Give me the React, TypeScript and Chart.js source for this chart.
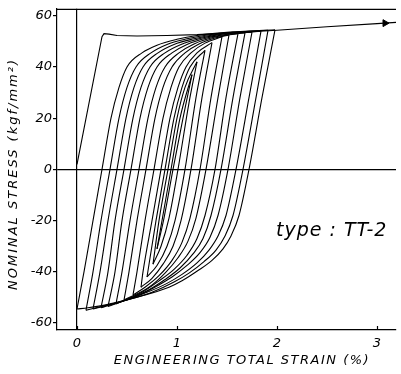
import { useEffect, useRef } from 'react';
import { Chart, registerables } from 'chart.js';

Chart.register(...registerables);

// ---- axis ticks ----
const strainTicks = [0, 1, 2, 3];
const stressTicks = [-60, -40, -20, 0, 20, 40, 60];

// ---- monotonic tensile curve [strain %, stress kgf/mm2] ----
const monotonic = [[0, 2], [0.25, 51.8], [0.27, 53], [0.32, 52.8], [0.4, 52.3], [0.6, 52.1], [0.9, 52.3], [1.2, 52.6], [1.5, 53.2], [2.0, 54.3], [2.5, 55.7], [3.0, 56.9], [3.19, 57.4]];
const arrowPoint = [[3.08, 57.1]];

// ---- cyclic loops: ascending (reloading) branches ----
const up0 = [[0, -54.5], [0.07, -40], [0.16, -20], [0.25, 0], [0.34, 20], [0.42, 32], [0.5, 40], [0.65, 45.5], [0.8, 48.5], [1.0, 50.8], [1.2, 52.3], [1.5, 53.5], [1.98, 54.5]];
const up1 = [[0.09, -55], [0.16, -40], [0.24, -20], [0.33, 0], [0.42, 20], [0.5, 32], [0.59, 40], [0.74, 45.5], [0.9, 48.8], [1.1, 51], [1.3, 52.5], [1.6, 53.6], [1.91, 54.3]];
const up2 = [[0.16, -54.5], [0.23, -40], [0.31, -20], [0.4, 0], [0.49, 20], [0.57, 32], [0.66, 40], [0.81, 45.5], [0.97, 48.8], [1.17, 51], [1.37, 52.6], [1.84, 54]];
const up3 = [[0.24, -54], [0.31, -40], [0.38, -20], [0.47, 0], [0.56, 20], [0.64, 32], [0.73, 40], [0.88, 45.5], [1.04, 48.8], [1.24, 51.2], [1.45, 52.8], [1.75, 53.6]];
const up4 = [[0.31, -53.5], [0.38, -40], [0.45, -20], [0.54, 0], [0.63, 20], [0.71, 32], [0.8, 40], [0.95, 45.5], [1.1, 48.8], [1.3, 51.3], [1.5, 52.7], [1.68, 53.3]];
const up5 = [[0.39, -52.5], [0.45, -40], [0.53, -20], [0.62, 0], [0.71, 20], [0.79, 32], [0.88, 40], [1.02, 45.5], [1.17, 49], [1.36, 51.5], [1.61, 53]];
const up6 = [[0.47, -51], [0.52, -40], [0.6, -20], [0.69, 0], [0.78, 20], [0.86, 32], [0.95, 40], [1.08, 45.5], [1.22, 49], [1.38, 51.3], [1.52, 52.5]];
const up7 = [[0.56, -49], [0.6, -40], [0.68, -20], [0.77, 0], [0.86, 20], [0.94, 32], [1.02, 40], [1.14, 45.5], [1.28, 49.3], [1.45, 51.8]];
const up8 = [[0.64, -46], [0.66, -40], [0.75, -20], [0.84, 0], [0.93, 20], [1.01, 32], [1.09, 40], [1.2, 45.5], [1.35, 49.5]];
const up9 = [[0.7, -42], [0.79, -20], [0.88, 0], [0.97, 20], [1.05, 32], [1.13, 40], [1.28, 46.5]];
const up10 = [[0.76, -37], [0.82, -20], [0.91, 0], [1.0, 20], [1.08, 32], [1.2, 42]];
const up11 = [[0.8, -31], [0.85, -20], [0.94, 0], [1.03, 20], [1.15, 37]];

// ---- cyclic loops: descending (unloading) branches, listed by increasing strain ----
const down0 = [[0, -54.5], [0.11, -54], [0.3, -52.8], [0.49, -51], [0.7, -48.8], [0.92, -46], [1.05, -43.5], [1.21, -39.5], [1.35, -35.5], [1.46, -31], [1.54, -26], [1.62, -18], [1.72, 0], [1.85, 28], [1.98, 54.5]];
const down1 = [[0.09, -55], [0.3, -53], [0.5, -51], [0.75, -48], [0.97, -44], [1.12, -40.5], [1.27, -36], [1.39, -31.5], [1.48, -26], [1.56, -18], [1.66, 0], [1.79, 28], [1.91, 54.3]];
const down2 = [[0.16, -54.5], [0.45, -51.5], [0.7, -48], [0.9, -44.5], [1.05, -41], [1.2, -36.5], [1.32, -31.5], [1.41, -26], [1.49, -18], [1.59, 0], [1.72, 28], [1.84, 54]];
const down3 = [[0.24, -54], [0.6, -49.5], [0.8, -45.5], [0.95, -42], [1.1, -37.5], [1.23, -32.5], [1.33, -26.5], [1.41, -18], [1.51, 0], [1.63, 28], [1.75, 53.6]];
const down4 = [[0.31, -53.5], [0.52, -50.5], [0.72, -47], [0.88, -43], [1.03, -38.5], [1.16, -33], [1.26, -27], [1.34, -18], [1.44, 0], [1.56, 28], [1.68, 53.3]];
const down5 = [[0.39, -52.5], [0.65, -48], [0.82, -43.5], [0.97, -39], [1.1, -33.5], [1.2, -27], [1.28, -18], [1.38, 0], [1.49, 28], [1.61, 53]];
const down6 = [[0.47, -51], [0.72, -46], [0.88, -40.5], [1.01, -34.5], [1.11, -28], [1.19, -19], [1.29, 0], [1.41, 28], [1.52, 52.5]];
const down7 = [[0.56, -49], [0.68, -46], [0.82, -41.5], [0.95, -35.5], [1.05, -28.5], [1.13, -19], [1.23, 0], [1.34, 28], [1.45, 51.8]];
const down8 = [[0.64, -46], [0.75, -42.5], [0.86, -37], [0.96, -30], [1.04, -20], [1.14, 0], [1.25, 28], [1.35, 49.5]];
const down9 = [[0.7, -42], [0.8, -37.5], [0.9, -30], [0.98, -20], [1.08, 0], [1.19, 28], [1.28, 46.5]];
const down10 = [[0.76, -37], [0.84, -30], [0.92, -19], [1.01, 0], [1.12, 26], [1.2, 42]];
const down11 = [[0.8, -31], [0.87, -19], [0.96, 0], [1.06, 20], [1.15, 37]];

const upBranches = [up0, up1, up2, up3, up4, up5, up6, up7, up8, up9, up10, up11];
const downBranches = [down0, down1, down2, down3, down4, down5, down6, down7, down8, down9, down10, down11];

const xTitle = 'ENGINEERING TOTAL STRAIN (%)';
const yTitle = 'NOMINAL STRESS (kgf/mm²)';
const specimenLabel = 'type : TT-2';

const toXY = (arr: number[][]) => arr.map(([x, y]) => ({ x, y }));

const framePlugin = {
  id: 'frame',
  afterDraw(chart: any) {
    const { ctx, chartArea: a, scales } = chart;
    ctx.save();
    ctx.strokeStyle = '#000';
    ctx.lineWidth = 1.2;
    ctx.beginPath();
    ctx.moveTo(a.left, a.top + 0.5);
    ctx.lineTo(a.right, a.top + 0.5);
    for (const v of strainTicks) {
      const px = Math.round(scales.x.getPixelForValue(v)) + 0.5;
      ctx.moveTo(px, a.bottom);
      ctx.lineTo(px, a.bottom - 4);
    }
    ctx.stroke();
    ctx.fillStyle = '#000';
    ctx.textAlign = 'center';
    ctx.textBaseline = 'middle';
    ctx.font = 'italic 13px "DejaVu Sans"';
    (ctx as any).letterSpacing = '1.5px';
    ctx.fillText(xTitle, 242, 361);
    ctx.save();
    ctx.translate(14, 174);
    ctx.rotate(-Math.PI / 2);
    (ctx as any).letterSpacing = '2px';
    ctx.fillText(yTitle, 0, 0);
    ctx.restore();
    (ctx as any).letterSpacing = '1px';
    ctx.font = 'italic 19px "DejaVu Sans"';
    ctx.textAlign = 'left';
    ctx.fillText(specimenLabel, 276, 231);
    ctx.restore();
  },
};

export default function App() {
  const ref = useRef<HTMLCanvasElement>(null);
  useEffect(() => {
    if (!ref.current) return;
    const lineStyle = {
      borderColor: '#000',
      borderWidth: 1.1,
      pointRadius: 0,
      fill: false,
      cubicInterpolationMode: 'monotone' as const,
    };
    const datasets: any[] = [];
    upBranches.forEach((b, i) => datasets.push({ label: 'up' + i, data: toXY(b), ...lineStyle }));
    downBranches.forEach((b, i) => datasets.push({ label: 'down' + i, data: toXY(b), ...lineStyle }));
    datasets.push({
      label: 'monotonic',
      data: toXY(monotonic),
      borderColor: '#000',
      borderWidth: 1.1,
      pointRadius: 0,
      fill: false,
      tension: 0,
    });
    datasets.push({
      label: 'arrow',
      data: toXY(arrowPoint),
      showLine: false,
      pointStyle: 'triangle',
      pointRotation: 90,
      pointRadius: 4,
      pointBackgroundColor: '#000',
      pointBorderColor: '#000',
      pointBorderWidth: 1,
    });
    const tickFont = { family: 'DejaVu Sans', size: 13, style: 'italic' as const };
    const chart = new Chart(ref.current, {
      type: 'line',
      data: { datasets },
      options: {
        animation: false,
        responsive: false,
        devicePixelRatio: 1,
        layout: { padding: { top: 7, right: 0, left: 0, bottom: 0 } },
        plugins: { legend: { display: false }, tooltip: { enabled: false } },
        scales: {
          x: {
            type: 'linear',
            min: -0.2,
            max: 3.19,
            afterFit: (s: any) => { s.height = 44; },
            afterBuildTicks: (s: any) => { s.ticks = strainTicks.map((v) => ({ value: v })); },
            ticks: { color: '#000', font: tickFont, padding: 6, maxRotation: 0 },
            grid: {
              drawTicks: false,
              lineWidth: 1.2,
              color: (c: any) => (c.tick && c.tick.value === 0 ? '#000' : 'rgba(0,0,0,0)'),
            },
            border: { color: '#000', width: 1.2 },
          },
          y: {
            type: 'linear',
            min: -62.7,
            max: 62.7,
            afterFit: (s: any) => { s.width = 57; },
            afterBuildTicks: (s: any) => { s.ticks = stressTicks.map((v) => ({ value: v })); },
            ticks: { color: '#000', font: tickFont, padding: 1 },
            grid: {
              drawTicks: true,
              tickLength: 4,
              tickColor: '#000',
              lineWidth: 1.2,
              color: (c: any) => (c.tick && c.tick.value === 0 ? '#000' : 'rgba(0,0,0,0)'),
            },
            border: { color: '#000', width: 1.2 },
          },
        },
      },
      plugins: [framePlugin],
    });
    return () => chart.destroy();
  }, []);
  return (
    <div style={{ position: 'absolute', left: 0, top: 0, width: 401, height: 374, background: '#fff' }}>
      <canvas ref={ref} width={401} height={374} />
    </div>
  );
}
